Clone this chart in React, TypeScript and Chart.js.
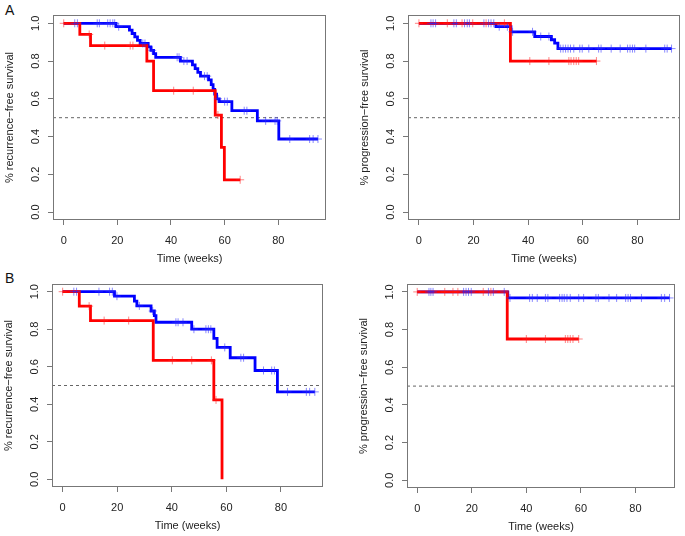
import React, { useEffect, useRef } from 'react';
import { Chart, registerables } from 'chart.js';
Chart.register(...registerables);

// ---------- shared axis content ----------
const xTicks = [0, 20, 40, 60, 80];
const yTicks = [0, 0.2, 0.4, 0.6, 0.8, 1.0];
const refLevel = 0.5;
const xTitle = 'Time (weeks)';
const rfsTitle = '% recurrence\u2212free survival';
const pfsTitle = '% progression\u2212free survival';

// ---------- Panel A, recurrence-free ----------
const aRfsBlueT = [19.5, 24.5, 25.5, 26.5, 27.5, 28.5, 31.5, 32.5, 33.5, 34.3, 43.5, 48.0, 49.0, 50.0, 51.0, 54.0, 55.0, 55.7, 56.3, 57.0, 58.0, 62.7, 72.2, 80.2];
const aRfsBlueS = [0.982, 0.964, 0.946, 0.928, 0.91, 0.893, 0.875, 0.857, 0.839, 0.82, 0.8, 0.78, 0.76, 0.74, 0.72, 0.7, 0.675, 0.65, 0.625, 0.6, 0.585, 0.537, 0.483, 0.387];
const aRfsBlueC = [4.1, 5.1, 12.5, 13.3, 16.4, 17.3, 18.3, 19.0, 20.5, 29.5, 30.3, 33.0, 42.3, 43.0, 44.8, 46.0, 52.5, 53.5, 57.5, 60.0, 61.0, 67.3, 68.3, 75.3, 78.8, 79.6, 84.3, 91.7, 93.0, 94.8];
const aRfsRedT = [6.0, 10.0, 31.0, 33.5, 56.5, 58.8, 59.9];
const aRfsRedS = [0.941, 0.882, 0.8, 0.643, 0.514, 0.343, 0.171];
const aRfsRedC = [0, 9.5, 15.3, 24.8, 25.8, 41.0, 48.3, 57.5, 65.8];

// ---------- Panel A, progression-free ----------
const aPfsBlueT = [28.2, 33.7, 42.4, 48.5, 49.7, 50.9];
const aPfsBlueS = [0.982, 0.955, 0.93, 0.913, 0.895, 0.866];
const aPfsBlueC = [4.4, 5.2, 6.1, 12.8, 13.7, 16.7, 17.7, 18.5, 23.8, 25.5, 26.4, 27.4, 29.4, 32.4, 34.3, 41.6, 44.6, 47.6, 51.9, 52.8, 53.7, 54.6, 55.5, 56.7, 58.9, 59.8, 62.2, 65.8, 66.7, 70.4, 73.7, 76.4, 77.3, 78.2, 79.0, 83.1, 90.0, 90.9, 92.5];
const aPfsRedT = [33.5];
const aPfsRedS = [0.8];
const aPfsRedC = [0, 10.4, 15.8, 19.7, 24.6, 31.3, 40.6, 47.6, 54.9, 55.7, 56.7, 57.6, 58.5, 65.0];

// ---------- Panel B, recurrence-free ----------
const bRfsBlueT = [19.0, 26.3, 27.2, 32.4, 33.6, 34.2, 47.3, 55.4, 56.6, 61.4, 70.5, 78.7];
const bRfsBlueS = [0.976, 0.95, 0.924, 0.897, 0.872, 0.837, 0.8, 0.751, 0.703, 0.648, 0.58, 0.466];
const bRfsBlueC = [4.1, 5.1, 13.3, 17.2, 18.2, 19.9, 28.1, 33.0, 41.5, 42.3, 44.1, 48.1, 52.5, 53.4, 54.3, 59.4, 65.3, 66.3, 73.6, 76.6, 77.6, 82.4, 89.3, 90.5, 92.4];
const bRfsRedT = [6.1, 10.2, 33.2, 55.4, 58.4];
const bRfsRedS = [0.923, 0.846, 0.634, 0.423, 0.0];
const bRfsRedC = [0, 9.7, 15.2, 24.2, 40.2, 47.3, 54.5, 56.2];

// ---------- Panel B, progression-free ----------
const bPfsBlueT = [33.2];
const bPfsBlueS = [0.968];
const bPfsBlueC = [4.3, 5.0, 5.8, 17.0, 17.9, 18.8, 19.8, 26.1, 27.9, 31.9, 34.0, 41.2, 42.2, 44.0, 47.0, 47.9, 52.2, 53.1, 53.9, 54.9, 56.1, 59.2, 61.0, 65.5, 66.4, 70.3, 73.1, 76.4, 77.3, 78.2, 82.2, 89.5, 90.7, 92.5];
const bPfsRedT = [33.0];
const bPfsRedS = [0.75];
const bPfsRedC = [0, 10.1, 13.1, 14.9, 24.2, 27.0, 40.0, 47.0, 54.3, 55.2, 56.1, 57.1, 59.2];

// ---------- styling ----------
const BLUE = '#0000ff';
const RED = '#ff0000';
const BLUE_MARK = 'rgba(40,40,255,0.55)';
const RED_MARK = 'rgba(255,30,30,0.55)';
const AXIS_COLOR = '#777';
const TEXT_COLOR = '#222';
const FONT = "'Liberation Sans', Arial, Helvetica, sans-serif";

type Pt = { x: number; y: number };

function stepPoints(times: number[], surv: number[], censor: number[]): Pt[] {
  const pts: Pt[] = [{ x: 0, y: 1 }];
  let prev = 1;
  times.forEach((t, i) => {
    pts.push({ x: t, y: prev });
    pts.push({ x: t, y: surv[i] });
    prev = surv[i];
  });
  const lastC = censor.length ? Math.max(...censor) : 0;
  const lastT = times.length ? times[times.length - 1] : 0;
  if (lastC > lastT) pts.push({ x: lastC, y: prev });
  return pts;
}

function survAt(times: number[], surv: number[], t: number): number {
  let s = 1;
  times.forEach((e, i) => {
    if (e <= t) s = surv[i];
  });
  return s;
}

function censorPoints(times: number[], surv: number[], censor: number[]): Pt[] {
  return censor.map((t) => ({ x: t, y: survAt(times, surv, t) }));
}

const boxPlugin = {
  id: 'rbox',
  afterDraw(chart: any) {
    const { ctx, chartArea } = chart;
    const l = Math.round(chartArea.left) + 0.5;
    const t = Math.round(chartArea.top) + 0.5;
    const r = Math.round(chartArea.right) - 0.5;
    const b = Math.round(chartArea.bottom) - 0.5;
    ctx.save();
    ctx.strokeStyle = AXIS_COLOR;
    ctx.lineWidth = 1;
    ctx.strokeRect(l, t, r - l, b - t);
    ctx.restore();
  },
};

type Group = { times: number[]; surv: number[]; censor: number[]; line: string; mark: string };

type PanelProps = {
  box: { l: number; t: number; r: number; b: number };
  xMin: number;
  xMax: number;
  yMin: number;
  yMax: number;
  yTitle: string;
  red: Group;
  blue: Group;
};

const PAD_L = 55;
const PAD_T = 12;
const PAD_R = 3;
const PAD_B = 50;

function Panel(props: PanelProps) {
  const ref = useRef<HTMLCanvasElement | null>(null);
  const { box } = props;
  const width = box.r - box.l + PAD_L + PAD_R;
  const height = box.b - box.t + PAD_T + PAD_B;

  useEffect(() => {
    if (!ref.current) return;
    const { red, blue } = props;
    const chart = new Chart(ref.current, {
      type: 'scatter',
      data: {
        datasets: [
          {
            data: censorPoints(red.times, red.surv, red.censor),
            pointStyle: 'cross',
            pointRadius: 4,
            pointBorderWidth: 1,
            borderColor: red.mark,
            backgroundColor: red.mark,
            showLine: false,
          },
          {
            data: censorPoints(blue.times, blue.surv, blue.censor),
            pointStyle: 'cross',
            pointRadius: 4,
            pointBorderWidth: 1,
            borderColor: blue.mark,
            backgroundColor: blue.mark,
            showLine: false,
          },
          {
            data: stepPoints(red.times, red.surv, red.censor),
            showLine: true,
            borderColor: red.line,
            borderWidth: 2.8,
            pointRadius: 0,
            fill: false,
          },
          {
            data: stepPoints(blue.times, blue.surv, blue.censor),
            showLine: true,
            borderColor: blue.line,
            borderWidth: 2.8,
            pointRadius: 0,
            fill: false,
          },
          {
            data: [
              { x: props.xMin, y: refLevel },
              { x: props.xMax, y: refLevel },
            ],
            showLine: true,
            borderColor: '#666',
            borderWidth: 1,
            borderDash: [3, 3],
            pointRadius: 0,
            fill: false,
          },
        ],
      },
      options: {
        responsive: false,
        animation: false,
        devicePixelRatio: 1,
        layout: { padding: { left: 0, top: PAD_T, right: PAD_R, bottom: 0 } },
        plugins: { legend: { display: false }, tooltip: { enabled: false } },
        events: [],
        scales: {
          x: {
            type: 'linear',
            min: props.xMin,
            max: props.xMax,
            afterBuildTicks: (s: any) => {
              s.ticks = xTicks.map((v) => ({ value: v }));
            },
            afterFit: (s: any) => {
              s.height = PAD_B;
            },
            ticks: {
              autoSkip: false,
              maxRotation: 0,
              padding: 9,
              color: TEXT_COLOR,
              font: { family: FONT, size: 11 },
              callback: (v: any) => String(v),
            },
            grid: { drawOnChartArea: false, drawTicks: true, tickLength: 5, color: AXIS_COLOR, lineWidth: 1 },
            border: { display: false },
            title: {
              display: true,
              text: xTitle,
              color: TEXT_COLOR,
              font: { family: FONT, size: 11 },
              padding: { top: 0, bottom: 4 },
            },
          },
          y: {
            type: 'linear',
            min: props.yMin,
            max: props.yMax,
            afterBuildTicks: (s: any) => {
              s.ticks = yTicks.map((v) => ({ value: v }));
            },
            afterFit: (s: any) => {
              s.width = PAD_L;
            },
            ticks: {
              autoSkip: false,
              minRotation: 90,
              maxRotation: 90,
              crossAlign: 'center',
              padding: 4,
              color: TEXT_COLOR,
              font: { family: FONT, size: 11 },
              callback: (v: any) => Number(v).toFixed(1),
            },
            grid: { drawOnChartArea: false, drawTicks: true, tickLength: 5, color: AXIS_COLOR, lineWidth: 1 },
            border: { display: false },
            title: {
              display: true,
              text: props.yTitle,
              color: TEXT_COLOR,
              font: { family: FONT, size: 11 },
              padding: { top: 5.5, bottom: 0 },
            },
          },
        },
      },
      plugins: [boxPlugin],
    } as any);
    return () => chart.destroy();
  }, []);

  return (
    <canvas
      ref={ref}
      width={width}
      height={height}
      style={{ position: 'absolute', left: box.l - PAD_L, top: box.t - PAD_T, width, height }}
    />
  );
}

const labelStyle: React.CSSProperties = {
  position: 'absolute',
  fontFamily: FONT,
  fontSize: 14,
  color: '#111',
  lineHeight: '14px',
};

export default function App() {
  return (
    <div style={{ position: 'fixed', left: 0, top: 0, width: 685, height: 536, background: '#fff', overflow: 'hidden' }}>
      <div style={{ ...labelStyle, left: 5, top: 3 }}>A</div>
      <div style={{ ...labelStyle, left: 5, top: 271 }}>B</div>
      <Panel
        box={{ l: 53, t: 15, r: 328, b: 220 }}
        xMin={-4.0}
        xMax={97.8}
        yMin={-0.042}
        yMax={1.044}
        yTitle={rfsTitle}
        red={{ times: aRfsRedT, surv: aRfsRedS, censor: aRfsRedC, line: RED, mark: RED_MARK }}
        blue={{ times: aRfsBlueT, surv: aRfsBlueS, censor: aRfsBlueC, line: BLUE, mark: BLUE_MARK }}
      />
      <Panel
        box={{ l: 408, t: 15, r: 682, b: 220 }}
        xMin={-4.0}
        xMax={95.6}
        yMin={-0.042}
        yMax={1.044}
        yTitle={pfsTitle}
        red={{ times: aPfsRedT, surv: aPfsRedS, censor: aPfsRedC, line: RED, mark: RED_MARK }}
        blue={{ times: aPfsBlueT, surv: aPfsBlueS, censor: aPfsBlueC, line: BLUE, mark: BLUE_MARK }}
      />
      <Panel
        box={{ l: 52, t: 284, r: 325, b: 487 }}
        xMin={-3.9}
        xMax={95.4}
        yMin={-0.041}
        yMax={1.041}
        yTitle={rfsTitle}
        red={{ times: bRfsRedT, surv: bRfsRedS, censor: bRfsRedC, line: RED, mark: RED_MARK }}
        blue={{ times: bRfsBlueT, surv: bRfsBlueS, censor: bRfsBlueC, line: BLUE, mark: BLUE_MARK }}
      />
      <Panel
        box={{ l: 407, t: 284, r: 677, b: 488 }}
        xMin={-3.75}
        xMax={94.5}
        yMin={-0.041}
        yMax={1.042}
        yTitle={pfsTitle}
        red={{ times: bPfsRedT, surv: bPfsRedS, censor: bPfsRedC, line: RED, mark: RED_MARK }}
        blue={{ times: bPfsBlueT, surv: bPfsBlueS, censor: bPfsBlueC, line: BLUE, mark: BLUE_MARK }}
      />
    </div>
  );
}
